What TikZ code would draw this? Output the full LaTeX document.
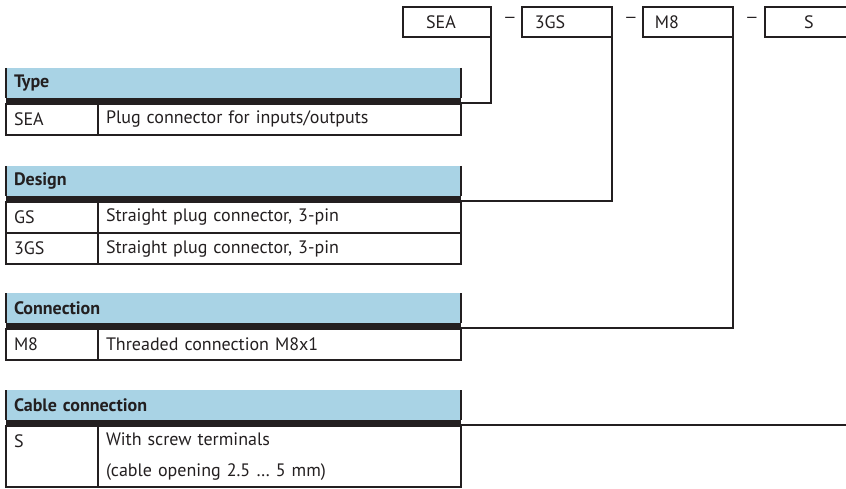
\documentclass[tikz,border=0pt]{standalone}
\usepackage{fontspec}
\setmainfont{PT Sans}
\usetikzlibrary{positioning}
\definecolor{hdrblue}{HTML}{A9D3E5}
\definecolor{rulec}{HTML}{231F20}

\begin{document}
\begin{tikzpicture}[
    x=1pt, y=-1pt,
    every node/.append style={font=\fontsize{18}{31}\selectfont, text=rulec, outer sep=0pt},
    rule/.style={draw=rulec, line width=1.6pt},
    hdr/.style={fill=hdrblue, anchor=north west, minimum height=30pt, text width=439pt, inner xsep=8pt, align=left, font=\fontsize{18}{31}\selectfont\bfseries},
    cell/.style={rule, minimum height=31pt, inner xsep=8pt, inner ysep=0pt, align=left},
    codecell/.style={cell, text width=76pt},
    desccell/.style={cell, text width=347pt},
    orderbox/.style={rule, minimum height=30pt, inner sep=0pt},
    sep/.style={inner sep=0pt, font=\fontsize{16}{16}\selectfont},
]
\useasboundingbox (0,0) rectangle (846,489);
\clip (0,0) rectangle (846,489);

% order code boxes
\node[orderbox, minimum width=88pt] (sea) at (447,22) {};
\node[orderbox, minimum width=90pt] (gs) at (567,22) {};
\node[orderbox, minimum width=90pt] (m8) at (688,22) {};
\node[orderbox, minimum width=90pt] (s) at (810,22) {};
\node (seatxt) at (441,22) {SEA};
\node (gstxt) at (550,22) {3GS};
\node (m8txt) at (667,22) {M8};
\node (stxt) at (809,22) {S};
\node[sep] (dash1) at (510,20) {\textemdash};
\node[sep] (dash2) at (631,20) {\textemdash};
\node[sep] (dash3) at (752,20) {\textemdash};

% Type
\node[hdr] (typehdr) at (6,68) {Type};
\node[codecell, below right=6pt and 0pt of typehdr.south west] (typec1) {SEA};
\node[desccell, right=0pt of typec1] (typed1) {Plug connector for inputs/outputs};

% Design
\node[hdr] (dsghdr) at (6,166) {Design};
\node[codecell, below right=6pt and 0pt of dsghdr.south west] (dsgc1) {GS};
\node[desccell, right=0pt of dsgc1] (dsgd1) {Straight plug connector, 3-pin};
\node[codecell, below=0pt of dsgc1] (dsgc2) {3GS};
\node[desccell, right=0pt of dsgc2] (dsgd2) {Straight plug connector, 3-pin};

% Connection
\node[hdr] (conhdr) at (6,293) {Connection};
\node[codecell, below right=6pt and 0pt of conhdr.south west] (conc1) {M8};
\node[desccell, right=0pt of conc1] (cond1) {Threaded connection M8x1};

% Cable connection
\node[hdr] (cabhdr) at (6,390) {Cable connection};
\node[codecell, minimum height=61pt, below right=6pt and 0pt of cabhdr.south west] (cabc1) {S\\~};
\node[desccell, minimum height=61pt, right=0pt of cabc1] (cabd1) {With screw terminals\\(cable opening 2.5 \dots\ 5 mm)};

% header bars and side rules
\foreach \h in {typehdr, dsghdr, conhdr, cabhdr} {
  \fill[rulec] (\h.south west) rectangle ([yshift=-6pt]\h.south east);
  \draw[rule] (\h.north west) -- (\h.south west);
  \draw[rule] (\h.north east) -- (\h.south east);
}

% leader lines
\coordinate (typejoin) at ([yshift=-5pt]typehdr.south east);
\coordinate (dsgjoin) at ([yshift=-5pt]dsghdr.south east);
\coordinate (conjoin) at ([yshift=-5pt]conhdr.south east);
\coordinate (cabjoin) at ([yshift=-5pt]cabhdr.south east);
\draw[rule] (sea.south east) |- (typejoin);
\draw[rule] (gs.south east) |- (dsgjoin);
\draw[rule] (m8.south east) |- (conjoin);
\draw[rule] (s.south east) |- (cabjoin);

\end{tikzpicture}
\end{document}
